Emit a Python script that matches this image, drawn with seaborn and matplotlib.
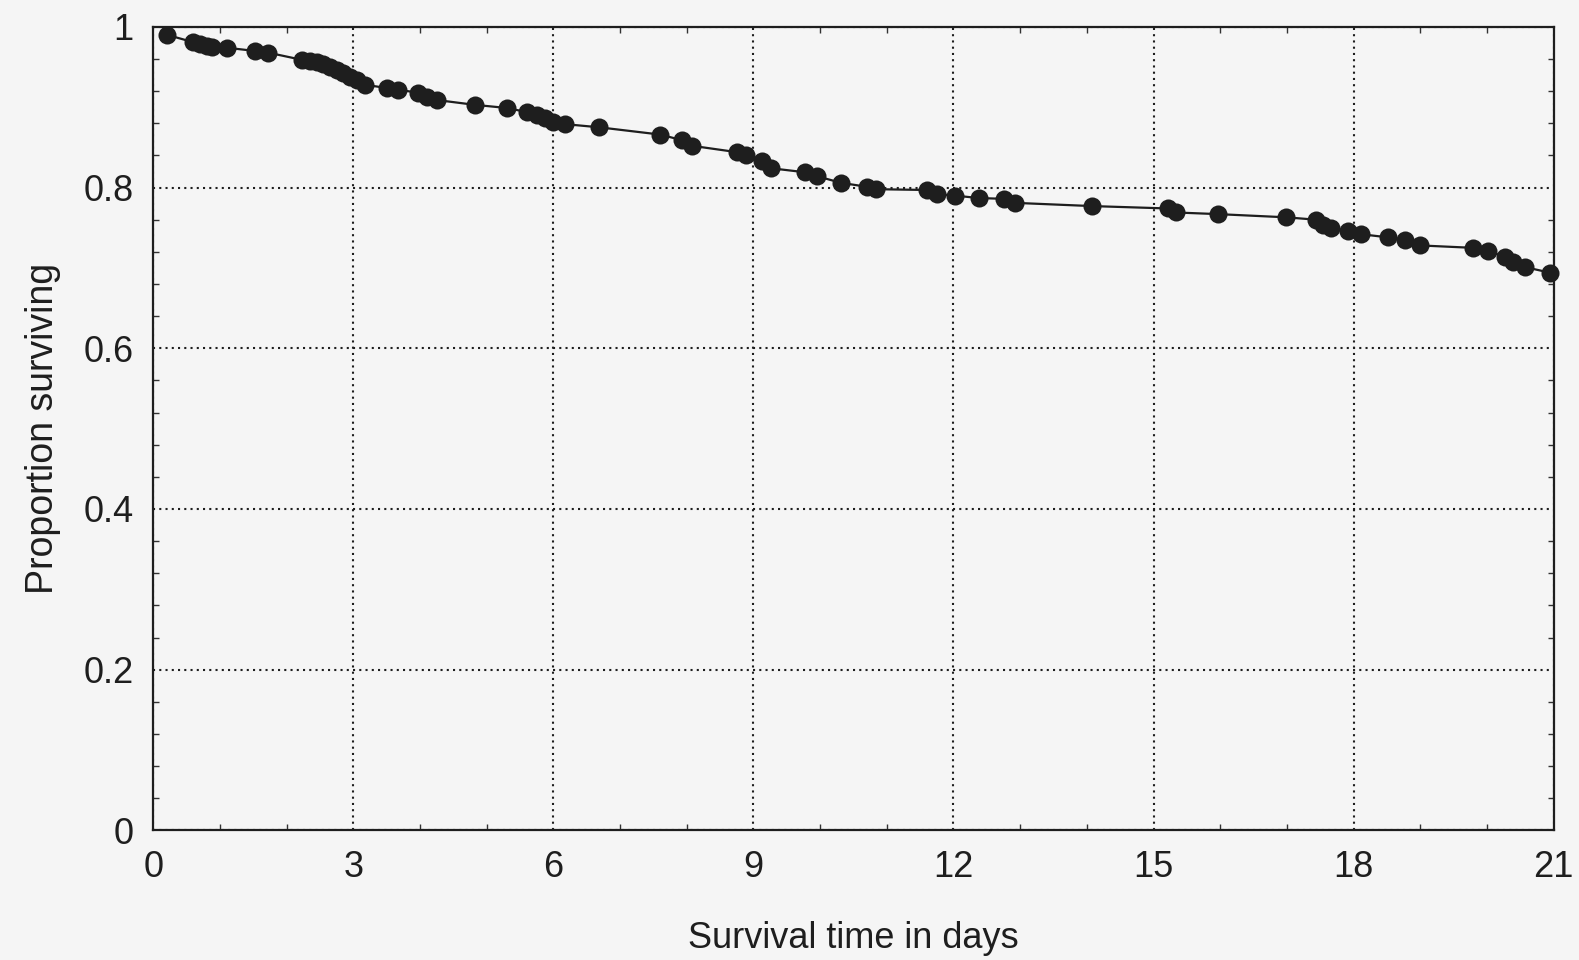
import numpy as np
import pandas as pd
import matplotlib
matplotlib.use("Agg")
import matplotlib.pyplot as plt
import seaborn as sns
from matplotlib.ticker import MultipleLocator

# survival times (days) and proportion surviving
days = [0.21, 0.60, 0.70, 0.81, 0.88, 1.11, 1.53, 1.72, 2.23, 2.35, 2.46, 2.55,
        2.65, 2.75, 2.84, 2.95, 3.05, 3.17, 3.50, 3.67, 3.97, 4.10, 4.25, 4.82,
        5.31, 5.60, 5.75, 5.87, 5.99, 6.17, 6.69, 7.60, 7.93, 8.08, 8.76, 8.89,
        9.13, 9.27, 9.78, 9.96, 10.31, 10.70, 10.84, 11.60, 11.75, 12.02, 12.38,
        12.75, 12.92, 14.07, 15.22, 15.34, 15.96, 16.99, 17.44, 17.54, 17.66,
        17.92, 18.11, 18.52, 18.77, 19.00, 19.79, 20.01, 20.27, 20.39, 20.57, 20.95]
surviving = [0.990, 0.981, 0.979, 0.976, 0.975, 0.974, 0.970, 0.968, 0.959, 0.958,
             0.956, 0.954, 0.950, 0.946, 0.943, 0.938, 0.934, 0.928, 0.924, 0.922,
             0.918, 0.913, 0.909, 0.903, 0.899, 0.894, 0.890, 0.887, 0.882, 0.879,
             0.875, 0.866, 0.859, 0.852, 0.844, 0.840, 0.833, 0.824, 0.819, 0.814,
             0.806, 0.801, 0.798, 0.797, 0.792, 0.790, 0.787, 0.786, 0.781, 0.777,
             0.774, 0.769, 0.767, 0.763, 0.760, 0.754, 0.750, 0.746, 0.742, 0.738,
             0.735, 0.728, 0.725, 0.721, 0.714, 0.708, 0.701, 0.694]

df = pd.DataFrame({"days": days, "surviving": surviving})

sns.set_style("ticks")
plt.rcParams["font.family"] = ["Liberation Sans", "DejaVu Sans"]

fig = plt.figure(figsize=(15.79, 9.6), dpi=100, facecolor="#f5f5f5")
ax = fig.add_axes([0.097, 0.135, 0.887, 0.837])
ax.set_facecolor("#f5f5f5")

sns.lineplot(data=df, x="days", y="surviving", ax=ax, color="#1e1e1e",
             linewidth=1.6, marker="o", markersize=13, markeredgewidth=0,
             markerfacecolor="#1e1e1e", clip_on=False, zorder=3)

ax.set_xlim(0, 21)
ax.set_ylim(0, 1)
ax.xaxis.set_major_locator(MultipleLocator(3))
ax.xaxis.set_minor_locator(MultipleLocator(1))
ax.yaxis.set_minor_locator(MultipleLocator(0.04))
ax.set_yticks([0, 0.2, 0.4, 0.6, 0.8, 1.0])
ax.set_yticklabels(["0", "0.2", "0.4", "0.6", "0.8", "1"])

ax.grid(True, which="major", color="#1e1e1e", linestyle=(0, (1, 2)), linewidth=1.5)
ax.tick_params(which="major", length=0, labelsize=26, pad=14, colors="#1e1e1e")
ax.tick_params(which="minor", direction="in", length=4, width=1.0,
               top=True, right=True, color="#333333")
for s in ax.spines.values():
    s.set_color("#1e1e1e")
    s.set_linewidth(1.6)

ax.set_xlabel("Survival time in days", fontsize=26, labelpad=26, color="#1e1e1e")
ax.set_ylabel("Proportion surviving", fontsize=27, labelpad=16, color="#1e1e1e")

fig.savefig("out.png", dpi=100, facecolor=fig.get_facecolor())
